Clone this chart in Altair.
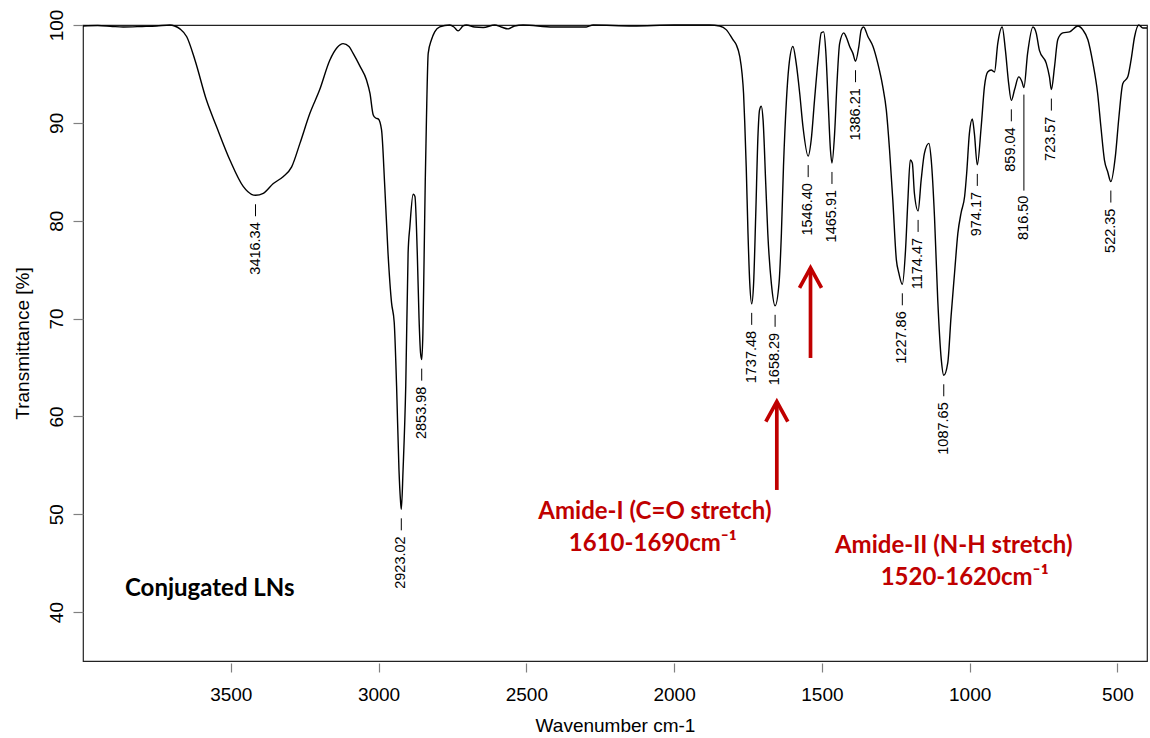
import altair as alt
import pandas as pd

# ---------------- spectrum ----------------
wavenumber = [
    4000, 3950, 3900, 3864, 3800, 3751, 3706, 3690, 3672, 3649,
    3621, 3582, 3548, 3503, 3458, 3430, 3416.34, 3390, 3356, 3323,
    3294, 3266, 3232, 3199, 3165, 3140, 3120, 3100, 3086, 3063,
    3041, 3029, 3018, 3010, 3001, 2990, 2979, 2968, 2956, 2947,
    2939, 2931, 2926, 2923.02, 2917, 2908, 2900, 2894, 2883, 2877,
    2869, 2863, 2858, 2853.98, 2850, 2846, 2842, 2838, 2832, 2821,
    2810, 2793, 2759, 2745, 2731, 2714, 2703, 2675, 2646, 2607,
    2585, 2562, 2540, 2511, 2410, 2297, 2274, 2140, 2000, 1880,
    1846, 1823, 1801, 1790, 1778, 1770, 1765, 1761, 1756, 1750,
    1744, 1737.48, 1731, 1724, 1716, 1711, 1705, 1699, 1690, 1683,
    1671, 1658.29, 1645, 1637, 1630, 1620, 1612, 1598, 1587, 1575,
    1564, 1546.40, 1536, 1525, 1513, 1502, 1494, 1487, 1479, 1471,
    1465.91, 1457, 1449, 1440, 1426, 1418, 1406, 1395, 1386.21, 1375,
    1367, 1359, 1344, 1327, 1311, 1294, 1282, 1271, 1260, 1248,
    1240, 1227.86, 1217, 1209, 1201, 1194, 1187, 1174.47, 1164, 1153,
    1138, 1130, 1119, 1108, 1096, 1087.65, 1074, 1063, 1051, 1040,
    1029, 1017, 1010, 1001, 991, 984, 974.17, 961, 950, 939,
    927, 916, 905, 890, 879, 868, 859.04, 848, 834, 823,
    816.50, 804, 786, 775, 764, 741, 730, 723.57, 713, 702,
    685, 662, 634, 617, 600, 583, 567, 556, 544, 533,
    522.35, 507, 495, 482, 465, 454, 442, 428, 414, 400,
]
transmittance = [
    99.9, 99.95, 99.85, 99.8, 99.85, 99.9, 100.0, 99.9, 99.6, 98.8,
    96.4, 92.3, 89.6, 86.2, 83.5, 82.7, 82.6, 82.8, 83.8, 84.5,
    85.5, 87.9, 91.0, 93.4, 96.4, 97.7, 98.1, 97.8, 97.1, 95.8,
    94.4, 93.0, 90.8, 90.5, 90.4, 89.3, 83.5, 76.7, 71.6, 69.6,
    63.1, 54.6, 51.5, 50.5, 54.6, 63.1, 76.7, 79.4, 82.7, 82.5,
    76.7, 70.0, 66.5, 65.8, 68.5, 76.0, 84.0, 90.3, 97.1, 98.5,
    99.3, 99.8, 100.0, 99.8, 99.4, 99.9, 100.0, 99.8, 99.75, 100.0,
    99.8, 99.6, 99.9, 100.0, 99.8, 99.8, 100.0, 99.9, 100.0, 100.0,
    99.9, 99.5, 98.5, 98.0, 96.8, 95.0, 93.0, 90.0, 85.5, 78.7,
    73.6, 71.5, 73.6, 80.4, 88.9, 91.3, 91.7, 90.3, 83.8, 78.7,
    73.6, 71.3, 73.6, 78.7, 85.5, 92.3, 95.7, 97.8, 96.1, 93.0,
    89.6, 86.6, 88.3, 92.3, 96.4, 99.2, 99.3, 97.4, 92.3, 87.2,
    85.9, 88.9, 94.0, 98.1, 99.2, 98.8, 97.8, 97.1, 96.3, 97.8,
    99.5, 99.8, 98.8, 97.8, 96.1, 93.7, 91.3, 87.2, 82.1, 76.0,
    74.7, 73.5, 77.0, 82.1, 86.2, 85.9, 82.8, 81.0, 84.2, 86.9,
    87.9, 86.2, 80.4, 71.9, 65.8, 64.2, 65.5, 70.2, 74.7, 78.7,
    80.8, 82.5, 84.9, 88.9, 90.4, 88.9, 85.7, 89.6, 93.7, 95.2,
    95.4, 95.2, 98.1, 99.8, 97.4, 94.0, 92.3, 93.4, 94.7, 94.2,
    93.6, 97.1, 99.8, 99.2, 97.4, 96.1, 94.7, 93.4, 95.7, 98.5,
    99.2, 99.3, 99.9, 99.5, 98.5, 96.1, 93.0, 89.6, 86.2, 85.0,
    84.0, 86.6, 90.6, 94.0, 94.7, 96.4, 98.8, 100.0, 99.7, 99.7,
]

# ---------------- labelled peaks ----------------
peak_wn = [3416.34, 2923.02, 2853.98, 1737.48, 1658.29, 1546.40, 1465.91, 1386.21,
           1227.86, 1174.47, 1087.65, 974.17, 859.04, 816.50, 723.57, 522.35]
peak_T = [82.6, 50.5, 65.8, 71.5, 71.3, 86.6, 85.9, 96.3,
          73.5, 81.0, 64.2, 85.7, 92.3, 93.6, 93.4, 84.0]
long_leader_peaks = [816.50]   # label pushed further down with a long leader

# ---------------- axis ticks ----------------
x_ticks = [3500, 3000, 2500, 2000, 1500, 1000, 500]
y_ticks = [40, 50, 60, 70, 80, 90, 100]

# ---------------- annotations ----------------
sample_text = ["Conjugated LNs"]
sample_wn = [3858]
sample_T = [41.65]

amide_text = ["Amide-I (C=O stretch)", "1610-1690cm\u207b\u00b9",
              "Amide-II (N-H stretch)", "1520-1620cm\u207b\u00b9"]
amide_wn = [2065, 2072, 1054, 1017]
amide_T = [49.48, 46.24, 46.07, 42.77]

arrow_wn = [1652.5, 1538.5]
arrow_tail_T = [52.48, 65.97]
arrow_tip_T = [61.50, 75.17]

RED = "#C00000"
LABEL_FONT = "Liberation Sans, Arial, Helvetica, sans-serif"
NOTE_FONT = "Lato, Carlito, Open Sans, sans-serif"

# ---------------- tables ----------------
spec = pd.DataFrame({"wn": wavenumber, "T": transmittance})
peaks = pd.DataFrame({"wn": peak_wn, "T": peak_T,
                      "label": [f"{w:.2f}" for w in peak_wn]})
peaks_std = peaks[~peaks["wn"].isin(long_leader_peaks)]
peaks_long = peaks[peaks["wn"].isin(long_leader_peaks)]
sample = pd.DataFrame({"wn": sample_wn, "T": sample_T, "text": sample_text})
amide = pd.DataFrame({"wn": amide_wn, "T": amide_T, "text": amide_text})
arrows = pd.DataFrame({"wn": arrow_wn, "T": arrow_tail_T, "T2": arrow_tip_T})

xscale = alt.Scale(domain=[400, 4000], reverse=True, nice=False, zero=False)
yscale = alt.Scale(domain=[35, 100], nice=False, zero=False)

x_axis = alt.Axis(
    values=x_ticks, title="Wavenumber cm-1", grid=False, domain=False,
    tickSize=9, offset=2, tickColor="#808080", tickWidth=1.2,
    labelFont=LABEL_FONT, labelFontSize=19, labelColor="black",
    labelPadding=13, labelFlush=False, labelOverlap=False, format="d",
    titleFont=LABEL_FONT, titleFontSize=19, titleFontWeight="normal",
    titleColor="black", titleY=62, titleBaseline="middle",
)
y_axis = alt.Axis(
    values=y_ticks, title="Transmittance [%]", grid=False, domain=False,
    tickSize=10, tickColor="#808080", tickWidth=1.2,
    labelFont=LABEL_FONT, labelFontSize=19, labelColor="black",
    labelAngle=270, labelAlign="center", labelBaseline="bottom",
    labelPadding=7, labelFlush=False, labelOverlap=False,
    titleFont=LABEL_FONT, titleFontSize=19, titleFontWeight="normal",
    titleColor="black", titleAngle=270, titleX=-61, titleY=318,
    titleBaseline="middle", titleAlign="center",
)

X = alt.X("wn:Q", scale=xscale, axis=x_axis)
Y = alt.Y("T:Q", scale=yscale, axis=y_axis)
Y2tip = alt.Y("T2:Q", scale=yscale, axis=y_axis)

line = alt.Chart(spec).mark_line(
    color="black", strokeWidth=1.4, interpolate="monotone"
).encode(x=X, y=Y, order=alt.Order("wn:Q", sort="descending"))

dash_std = alt.Chart(peaks_std).mark_rule(
    color="black", strokeWidth=1, yOffset=9, y2Offset=21
).encode(x=X, y=Y, y2=alt.Y2("T:Q"))

dash_long = alt.Chart(peaks_long).mark_rule(
    color="black", strokeWidth=1, yOffset=7, y2Offset=103
).encode(x=X, y=Y, y2=alt.Y2("T:Q"))

text_std = alt.Chart(peaks_std).mark_text(
    angle=270, align="right", baseline="middle", yOffset=27,
    font=LABEL_FONT, fontSize=14.5, color="black"
).encode(x=X, y=Y, text="label:N")

text_long = alt.Chart(peaks_long).mark_text(
    angle=270, align="right", baseline="middle", yOffset=108,
    font=LABEL_FONT, fontSize=14.5, color="black"
).encode(x=X, y=Y, text="label:N")

sample_note = alt.Chart(sample).mark_text(
    align="left", baseline="alphabetic", font=NOTE_FONT, fontSize=24,
    fontWeight="bold", color="black"
).encode(x=X, y=Y, text="text:N")

amide_note = alt.Chart(amide).mark_text(
    align="center", baseline="alphabetic", font=NOTE_FONT, fontSize=24,
    fontWeight="bold", color=RED
).encode(x=X, y=Y, text="text:N")

shaft = alt.Chart(arrows).mark_rule(color=RED, strokeWidth=3.7).encode(
    x=X, y=Y, y2=alt.Y2("T2:Q")
)
head = alt.Chart(arrows).mark_point(
    shape="M -0.55 1 L 0 0 L 0.55 1", filled=False, size=1600,
    color=RED, strokeWidth=3.7, opacity=1, strokeJoin="miter"
).encode(x=X, y=Y2tip)

chart = alt.layer(
    line, dash_std, dash_long, text_std, text_long,
    sample_note, amide_note, shaft, head
).properties(
    width=1064, height=636,
    autosize=alt.AutoSizeParams(type="none"),
    padding={"left": 83, "top": 25, "right": 3, "bottom": 77},
    background="white",
).configure_view(stroke="#222222", strokeWidth=1.2)

chart.save("out.html", embed_options={"renderer": "svg", "actions": False})
